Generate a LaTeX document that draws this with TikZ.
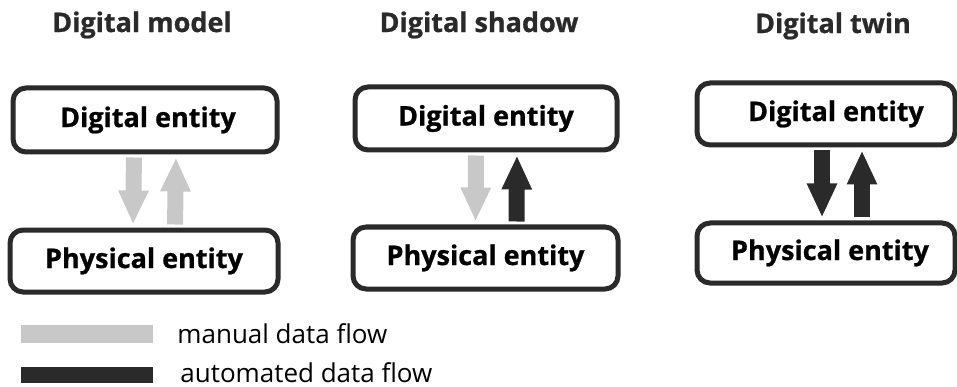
\documentclass[tikz,border=0pt]{standalone}
\usepackage{fontspec}
\setmainfont{Open Sans}[BoldFeatures={FakeBold=0.8}]
\usetikzlibrary{arrows.meta}
\definecolor{ink}{HTML}{2A2A2A}
\definecolor{manual}{HTML}{C8C8C8}
\begin{document}
\begin{tikzpicture}[x=1pt,y=-1pt,
  title/.style={font=\fontsize{27}{30}\selectfont\bfseries, text=ink},
  entity/.style={draw=ink, line width=5pt, rounded corners=13pt, fill=white,
    font=\fontsize{27}{30}\selectfont\bfseries, text=black, inner sep=0pt},
  flow/.style={line width=16pt, -{Triangle[width=28pt,length=34pt]}, shorten <=3pt, shorten >=3pt},
  manflow/.style={flow, draw=manual},
  autoflow/.style={flow, draw=ink},
  legbar/.style={minimum width=132pt, inner sep=0pt},
  legtext/.style={anchor=base west, font=\fontsize{26}{30}\selectfont, text=black, inner sep=0pt}]
\useasboundingbox (0,0) rectangle (957,387);

% column titles
\node[title] (t1) at (142,25) {Digital model};
\node[title] (t2) at (479,25) {Digital shadow};
\node[title] (t3) at (833,26) {Digital twin};

% digital model
\node[entity, minimum width=264pt, minimum height=64pt] (dm) at (145,120) {\hspace*{6pt}Digital entity};
\node[entity, minimum width=268pt, minimum height=62pt] (pm) at (144,261) {Physical entity};
\draw[manflow] ([xshift=-11pt]dm.south) -- ([xshift=-11pt]pm.north);
\draw[manflow] ([xshift=31pt]pm.north) -- ([xshift=31pt]dm.south);

% digital shadow
\node[entity, minimum width=262pt, minimum height=63pt] (ds) at (486,118.5) {Digital entity};
\node[entity, minimum width=265pt, minimum height=62pt] (ps) at (485.5,258) {Physical entity};
\draw[manflow] ([xshift=-10pt]ds.south) -- ([xshift=-10pt]ps.north);
\draw[autoflow] ([xshift=31pt]ps.north) -- ([xshift=31pt]ds.south);

% digital twin
\node[entity, minimum width=258pt, minimum height=62pt] (dt) at (826,114) {\hspace*{20pt}Digital entity};
\node[entity, minimum width=258pt, minimum height=60pt] (pt) at (826,253) {\hspace*{8pt}Physical entity};
\draw[autoflow] ([xshift=-4pt]dt.south) -- ([xshift=-4pt]pt.north);
\draw[autoflow] ([xshift=36pt]pt.north) -- ([xshift=36pt]dt.south);

% legend
\node[legbar, fill=manual, minimum height=18pt] (lm) at (87,334) {};
\node[legtext] (lmt) at ([xshift=24pt]lm.east |- 0,343) {manual data flow};
\node[legbar, fill=ink, minimum height=16pt] (la) at (87,375) {};
\node[legtext] (lat) at ([xshift=27pt]la.east |- 0,382) {automated data flow};
\end{tikzpicture}
\end{document}
